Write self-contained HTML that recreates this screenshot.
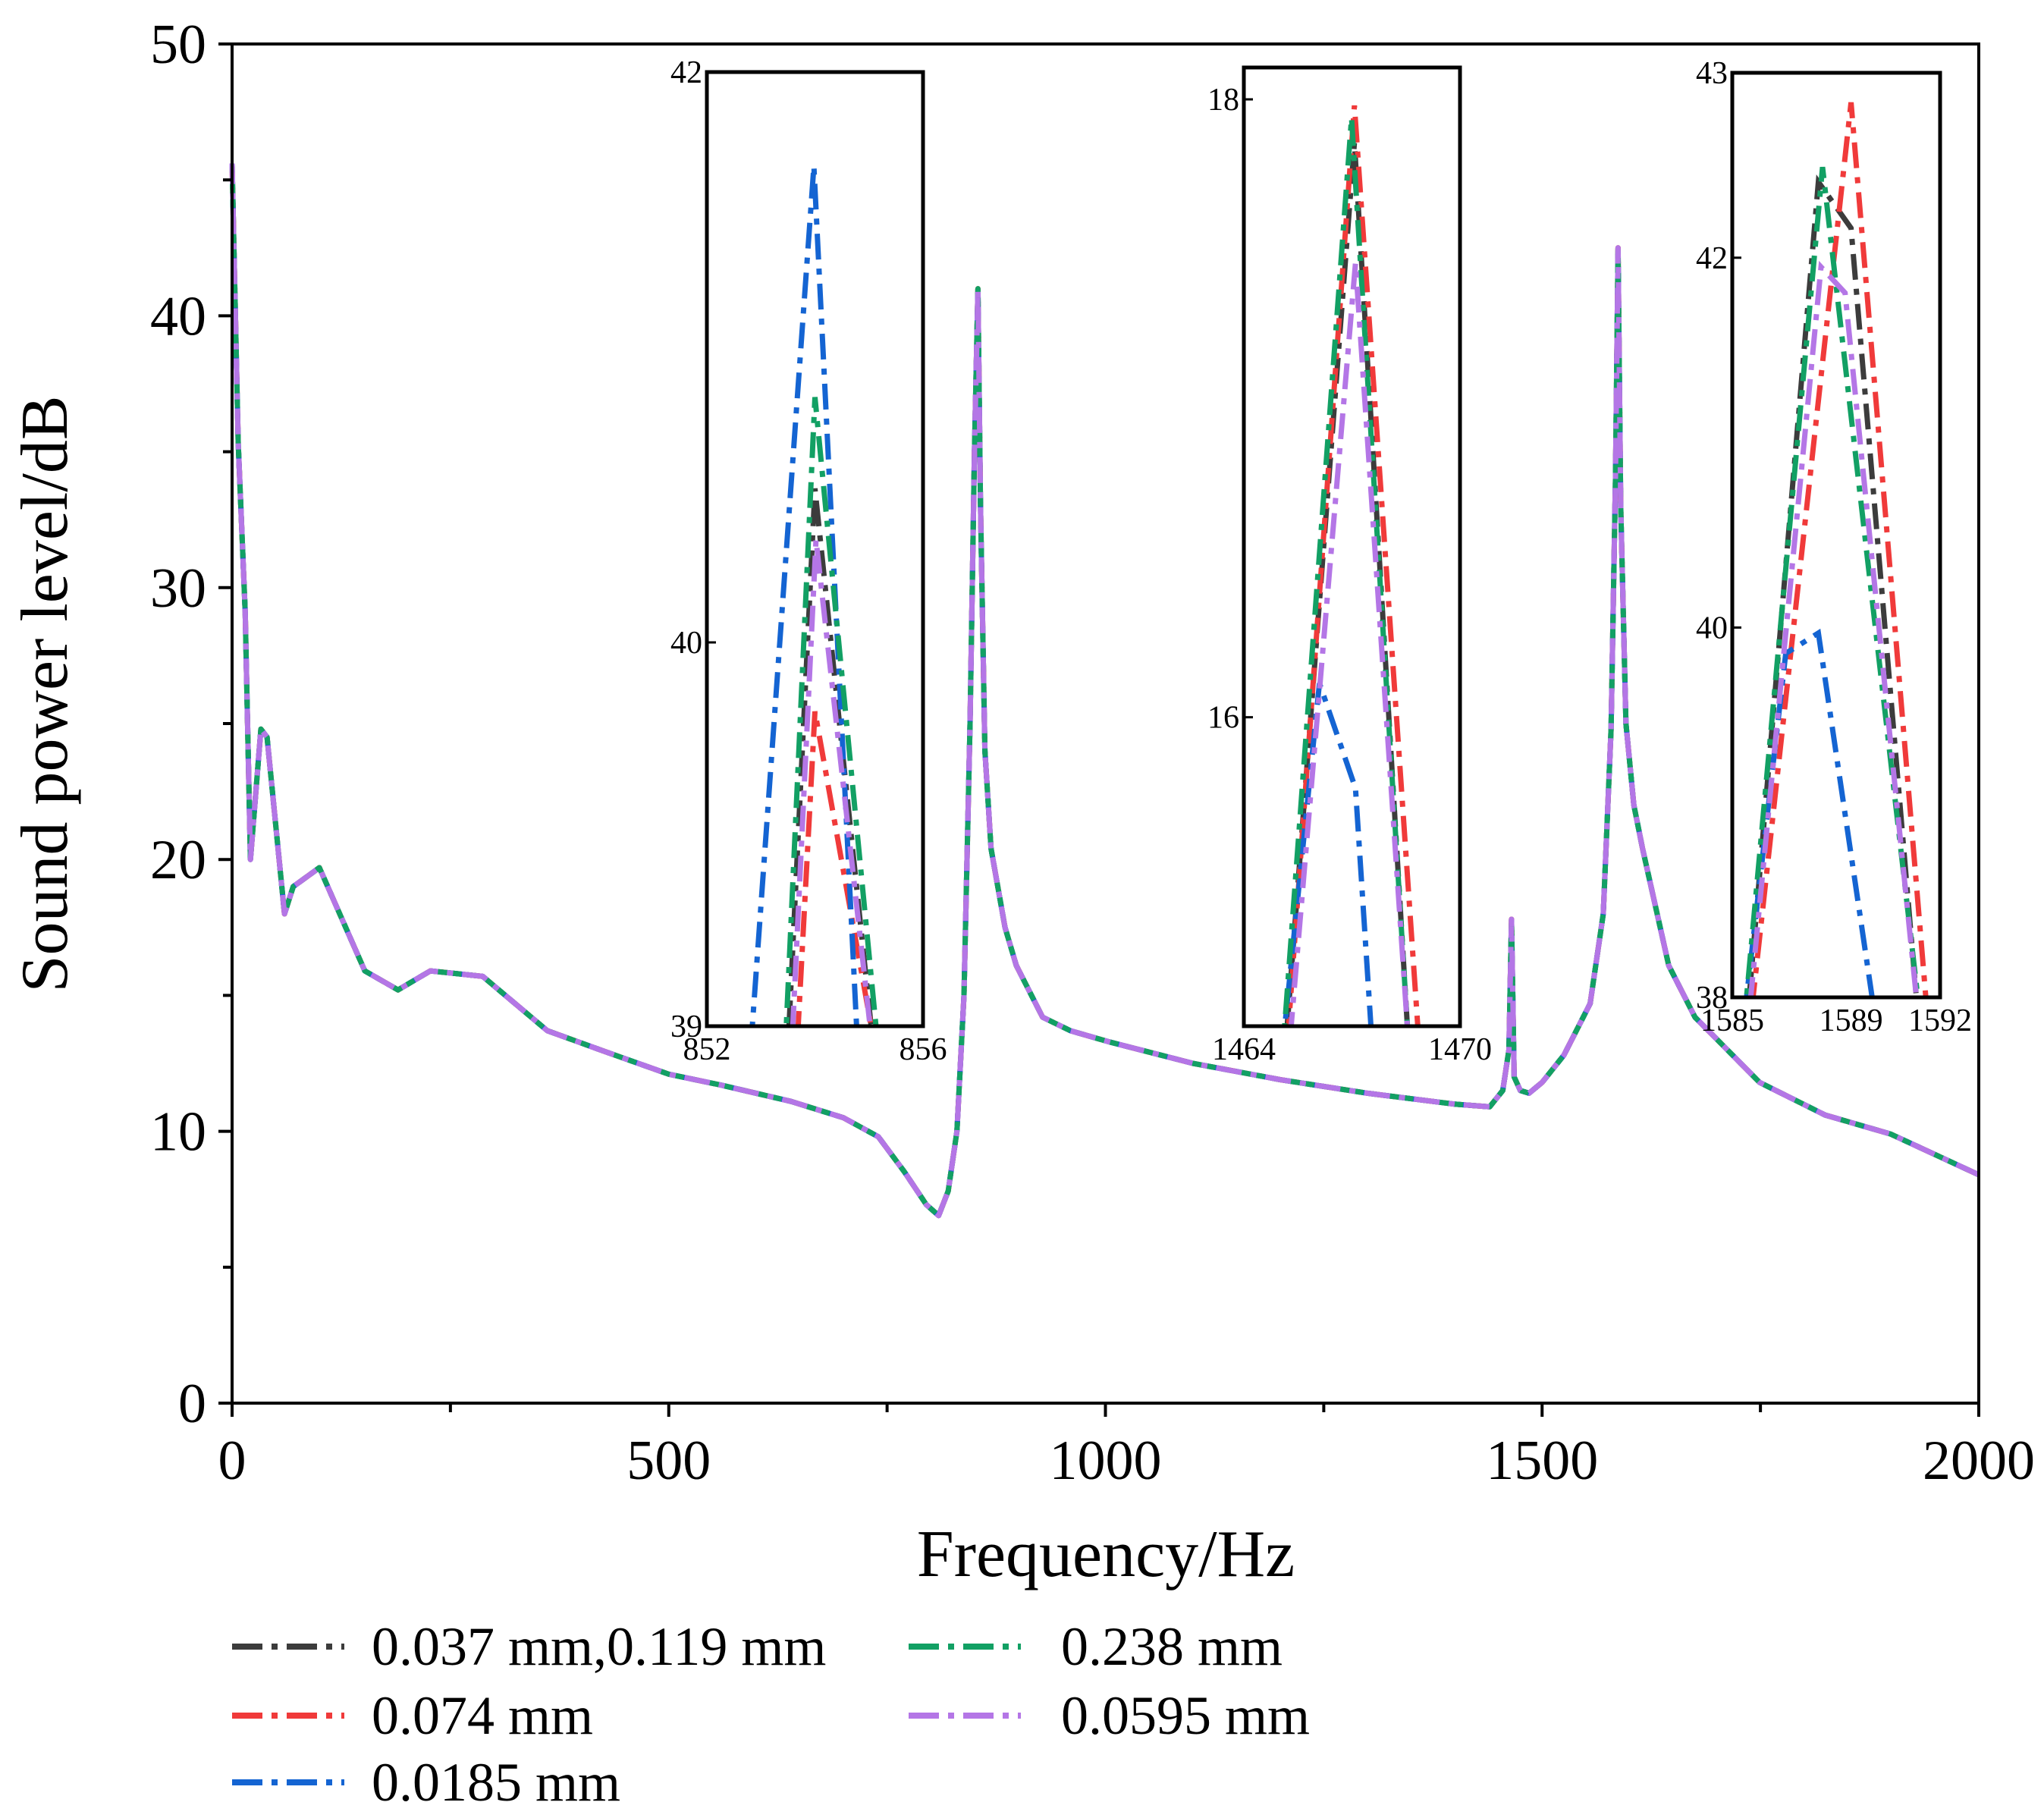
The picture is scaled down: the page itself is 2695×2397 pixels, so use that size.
<!DOCTYPE html>
<html><head><meta charset="utf-8">
<style>
html,body{margin:0;padding:0;background:#fff;}
svg{display:block;font-family:"Liberation Serif",serif;}
</style></head>
<body>
<svg id="chart" width="2695" height="2397" viewBox="0 0 2695 2397" xmlns="http://www.w3.org/2000/svg">
<rect width="2695" height="2397" fill="#fff"/>
</svg>
<script>
// ---- data ----
const seriesNames = ["0.037 mm,0.119 mm","0.074 mm","0.0185 mm","0.238 mm","0.0595 mm"];
const seriesColors = ["#3c3c3c","#f03a3a","#1464d2","#12a064","#b476e6"];
const mainFreq = [0,7,15,21,33,40,60,70,100,152,190,227,287,361,430,500,560,640,700,740,770,795,809,820,830,838,845,850,854,857,862,869,885,898,928,960,1003,1100,1200,1300,1400,1440,1455,1462,1465,1468,1475,1485,1500,1525,1555,1570,1579,1584,1587,1590,1596,1605,1615,1645,1675,1749,1824,1899,2000];
const mainLevel = [45.6,35.3,29.1,20,24.8,24.5,18,19,19.7,15.9,15.2,15.9,15.7,13.7,12.9,12.1,11.7,11.1,10.5,9.8,8.5,7.3,6.9,7.8,10,15,25,35,41,33,24,20.4,17.5,16.1,14.2,13.7,13.3,12.5,11.9,11.4,11,10.9,11.5,13,17.8,12,11.5,11.4,11.8,12.8,14.7,18,24.8,34,42.5,33,25,22,20.4,16.1,14.2,11.8,10.6,9.9,8.4];
const xTicks = [0,500,1000,1500,2000];
const xMinor = [250,750,1250,1750];
const yTicks = [0,10,20,30,40,50];
const yMinor = [5,15,25,35,45];
// inset 1 (852-856 Hz)
const in1X = [[853.52,854.0,855.04],[853.69,854.0,855.04],[852.84,853.98,854.77],[853.47,854.0,855.13],[853.59,854.02,855.02]];
const in1Y = [[39,40.54,39],[39,39.82,39],[39,41.67,39],[39,40.86,39],[39,40.36,39]];
const in1YTicks = [39,40,42];
const in1XTicks = [852,856];
// inset 2 (1464-1470 Hz)
const in2X = [[1465.19,1467.07,1468.55],[1465.23,1467.07,1468.84],[1465.12,1466.10,1467.1,1467.54],[1465.12,1466.99,1468.55],[1465.3,1467.1,1468.55]];
const in2Y = [[14.98,17.86,14.98],[14.98,17.98,14.98],[14.98,16.11,15.77,14.98],[14.98,17.94,14.98],[14.98,17.47,14.98]];
const in2YTicks = [16,18];
const in2XTicks = [1464,1470];
// inset 3 (1585-1592 Hz)
const in3X = [[1585.57,1587.9,1589.0,1591.2],[1585.70,1589.0,1591.52],[1585.48,1586.8,1587.9,1589.71],[1585.48,1588.04,1591.25],[1585.62,1587.99,1588.8,1591.2]];
const in3Y = [[38,42.41,42.16,38],[38,42.84,38],[38,39.86,39.97,38],[38,42.49,38],[38,41.95,41.81,38]];
const in3YTicks = [38,40,42,43];
const in3XTicks = [1585,1589,1592];

// ---- helpers ----
const NS="http://www.w3.org/2000/svg";
const svg=document.getElementById('chart');
function mk(tag,attrs,parent){const e=document.createElementNS(NS,tag);for(const k in attrs)e.setAttribute(k,attrs[k]);(parent||svg).appendChild(e);return e;}
function lin(d0,d1,r0,r1){return v=>r0+(v-d0)/(d1-d0)*(r1-r0);}
function poly(dom,rng){return v=>{let i=0;while(i<dom.length-2&&v>dom[i+1])i++;return rng[i]+(v-dom[i])/(dom[i+1]-dom[i])*(rng[i+1]-rng[i]);};}
const dash="34,12,8,12";
const offsets=[0,14,28,42,7];

// ---- main axes ----
const L=306,R=2609,T=58,B=1850;
const X=lin(0,2000,L,R), Y=lin(0,50,B,T);
const gMain=mk('g',{});


for(let s=0;s<5;s++){
  const d=mainFreq.map((f,i)=>(i?'L':'M')+X(f).toFixed(1)+','+Y(mainLevel[i]).toFixed(1)).join('');
  const p=mk('path',{d:d,fill:'none',stroke:seriesColors[s],'stroke-width':7,'stroke-dasharray':dash,'stroke-dashoffset':offsets[s],'stroke-linejoin':'round'},gMain);
  
  
}
const frame=mk('rect',{x:L,y:T,width:R-L,height:B-T,fill:'none',stroke:'#000','stroke-width':4});


xTicks.forEach(v=>{
  mk('line',{x1:X(v),x2:X(v),y1:B,y2:B+18,stroke:'#000','stroke-width':4});
  const t=mk('text',{x:X(v),y:B+100,'font-size':74,'text-anchor':'middle'});t.textContent=v;
  
  
});
xMinor.forEach(v=>mk('line',{x1:X(v),x2:X(v),y1:B,y2:B+12,stroke:'#000','stroke-width':4}));
yTicks.forEach(v=>{
  mk('line',{x1:L-18,x2:L,y1:Y(v),y2:Y(v),stroke:'#000','stroke-width':4});
  const t=mk('text',{x:L-34,y:Y(v)+25,'font-size':74,'text-anchor':'end'});t.textContent=v;
  
  
});
yMinor.forEach(v=>mk('line',{x1:L-12,x2:L,y1:Y(v),y2:Y(v),stroke:'#000','stroke-width':4}));
const xt=mk('text',{x:1458,y:2078,'font-size':88,'text-anchor':'middle'});xt.textContent='Frequency/Hz';


const yt=mk('text',{x:0,y:0,'font-size':88,'text-anchor':'middle',transform:'translate(88,915) rotate(-90)'});yt.textContent='Sound power level/dB';



// ---- insets ----
function inset(name,box,xs,ys,xd,ydom,yrng,xt,yt){
  const g=mk('g',{});
  
  
  mk('rect',{x:box[0],y:box[1],width:box[2]-box[0],height:box[3]-box[1],fill:'#fff'},g);
  const sx=lin(xd[0],xd[1],box[0],box[2]), sy=poly(ydom,yrng);
  const cid='clip-'+name;
  const cp=mk('clipPath',{id:cid},g);mk('rect',{x:box[0],y:box[1],width:box[2]-box[0],height:box[3]-box[1]},cp);
  const gl=mk('g',{'clip-path':'url(#'+cid+')'},g);
  for(let s=0;s<5;s++){
    const d=xs[s].map((f,i)=>(i?'L':'M')+sx(f).toFixed(1)+','+sy(ys[s][i]).toFixed(1)).join('');
    const p=mk('path',{d:d,fill:'none',stroke:seriesColors[s],'stroke-width':7,'stroke-dasharray':dash,'stroke-dashoffset':offsets[s]},gl);
    
    
  }
  mk('rect',{x:box[0],y:box[1],width:box[2]-box[0],height:box[3]-box[1],fill:'none',stroke:'#000','stroke-width':5},g);
  yt.forEach(v=>{
    mk('line',{x1:box[0],x2:box[0]+12,y1:sy(v),y2:sy(v),stroke:'#000','stroke-width':3},g);
    const t=mk('text',{x:box[0]-6,y:sy(v)+14,'font-size':42,'text-anchor':'end'},g);t.textContent=v;
    
    
  });
  xt.forEach(v=>{
    const t=mk('text',{x:sx(v),y:box[3]+44,'font-size':42,'text-anchor':'middle'},g);t.textContent=v;
    
    
  });
}
inset('inset-852-856',[932,95,1217,1353],in1X,in1Y,[852,856],[39,40,42],[1353,847,95],in1XTicks,in1YTicks);
inset('inset-1464-1470',[1640,89,1925,1353],in2X,in2Y,[1464,1470],[15,18],[1353,131],in2XTicks,in2YTicks);
inset('inset-1585-1592',[2284,96,2558,1315],in3X,in3Y,[1585,1592],[38,43],[1315,96],in3XTicks,in3YTicks);

// ---- legend ----
const legPos=[[306,2171,490],[306,2262,490],[306,2350,490],[1198,2171,1399],[1198,2262,1399]];
const legOrder=[0,1,2,3,4];
legOrder.forEach((s,i)=>{
  const [lx,ly,tx]=legPos[i];
  const g=mk('g',{});
  
  
  mk('line',{x1:lx,x2:lx+148,y1:ly,y2:ly,stroke:seriesColors[s],'stroke-width':8,'stroke-dasharray':'40,12,8,12'},g);
  const t=mk('text',{x:tx,y:ly+24,'font-size':72},g);t.textContent=seriesNames[s];
});
</script>
</body></html>
